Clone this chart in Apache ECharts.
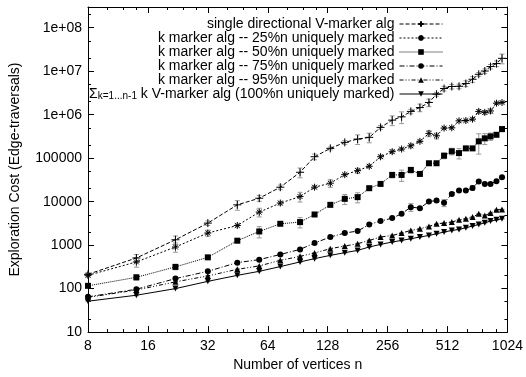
<!DOCTYPE html>
<html>
<head>
<meta charset="utf-8">
<script src="https://cdn.jsdelivr.net/npm/echarts@6/dist/echarts.min.js"></script>
<style>
  html, body { margin: 0; padding: 0; background: #fff; }
  #chart { width: 526px; height: 377px; }
</style>
</head>
<body>
<div id="chart"></div>
<script>
// Number of vertices n for every measured graph size
const vertices = [8, 14, 22, 32, 45, 58, 74, 93, 110, 132, 156, 181, 207, 236, 270, 301, 335, 372, 413, 451, 492, 538, 585, 633, 684, 735, 788, 842, 902, 962];

// Mean exploration cost (edge traversals) and error half-widths per algorithm
const singleDir = [213, 507, 1330, 3210, 8450, 12000, 21500, 47400, 108000, 168000, 231000, 275000, 301000, 511000, 750000, 893000, 1190000, 1460000, 1910000, 2960000, 4000000, 4450000, 4500000, 5200000, 6530000, 8500000, 10100000, 12800000, 15000000, 19800000];
const singleDirErr = [20, 100, 290, 390, 2100, 1800, 2600, 12000, 16000, 13000, 23000, 69000, 75000, 51000, 190000, 270000, 140000, 290000, 380000, 300000, 480000, 530000, 540000, 780000, 980000, 850000, 1200000, 1500000, 2250000, 5000000];

const marked25 = [202, 411, 906, 1900, 2830, 5750, 9290, 13100, 21500, 26600, 41800, 51600, 65100, 108000, 141000, 162000, 193000, 244000, 372000, 327000, 492000, 500000, 723000, 735000, 791000, 1190000, 1130000, 1220000, 1840000, 1910000];
const marked25Err = [15, 100, 220, 300, 200, 1300, 900, 3300, 1600, 5300, 3000, 7000, 5000, 10000, 14000, 10000, 20000, 15000, 60000, 50000, 30000, 30000, 45000, 45000, 60000, 120000, 120000, 150000, 100000, 100000];

const marked50 = [116, 182, 316, 524, 1265, 2065, 3100, 3390, 5070, 8450, 11600, 12700, 20400, 25600, 41200, 41200, 53600, 43400, 76400, 76400, 114000, 144000, 131000, 168000, 168000, 244000, 286000, 317000, 345000, 467000];
const marked50Err = [8, 25, 45, 30, 100, 600, 200, 900, 300, 800, 3000, 3300, 1500, 1500, 6000, 12000, 8000, 3000, 5000, 5000, 17000, 25000, 35000, 12000, 12000, 120000, 80000, 60000, 30000, 60000];

const marked75 = [64.7, 96.8, 170, 250, 396, 464, 610, 798, 1118, 1537, 1898, 2109, 2987, 3570, 4185, 5255, 7485, 7100, 10050, 10590, 9400, 15100, 18000, 18000, 20700, 28900, 25600, 25600, 29500, 36500];
const marked75Err = [3, 8, 8, 12, 20, 25, 30, 60, 60, 100, 120, 100, 150, 170, 200, 250, 1500, 500, 600, 700, 1700, 1000, 1000, 1000, 2500, 2000, 1500, 1500, 1500, 2000];

const marked95 = [63, 92.8, 143, 196, 278, 333, 447, 552, 660, 829, 955, 1078, 1284, 1537, 1672, 1898, 2177, 2382, 2690, 3100, 3214, 3390, 3827, 4035, 4415, 5255, 4812, 5457, 6490, 6590];
const marked95Err = [2, 3, 4, 5, 7, 8, 10, 12, 15, 18, 20, 22, 25, 30, 35, 40, 45, 50, 55, 60, 65, 70, 80, 85, 90, 110, 100, 110, 130, 130];

const sumV = [51.4, 70.5, 100, 147, 202, 250, 321, 411, 489, 582, 671, 757, 906, 1040, 1180, 1284, 1405, 1537, 1672, 1828, 2000, 2177, 2296, 2512, 2747, 2987, 3266, 3570, 3827, 4035];
const sumVErr = [1, 2, 2, 3, 4, 5, 6, 8, 10, 12, 13, 15, 18, 20, 24, 26, 28, 30, 33, 36, 40, 44, 46, 50, 55, 60, 65, 71, 77, 81];

// Tick positions
const xMajorTicks = [8, 16, 32, 64, 128, 256, 512, 1024];
const xMinorTicks = [10, 12, 14, 20, 24, 28, 40, 48, 56, 80, 96, 112, 160, 192, 224, 320, 384, 448, 640, 768, 896];
const yMajorTicks = [10, 100, 1000, 10000, 100000, 1000000, 10000000, 100000000];
const yMinorTicks = [20, 50, 200, 500, 2000, 5000, 20000, 50000, 200000, 500000, 2000000, 5000000, 20000000, 50000000, 200000000];

const seriesNames = [
  'single directional V-marker alg',
  'k marker alg -- 25%n uniquely marked',
  'k marker alg -- 50%n uniquely marked',
  'k marker alg -- 75%n uniquely marked',
  'k marker alg -- 95%n uniquely marked',
  'Σk=1...n-1 k V-marker alg (100%n uniquely marked)'
];

const FONT = '"Liberation Sans", Arial, Helvetica, sans-serif';
const INK = '#000';
const ERR_COLOR = '#999';

const SYM_PLUS = 'path://M5,0L5,10M0,5L10,5';
const SYM_STAR = 'path://M5,0L5,10M0,5L10,5M1.5,1.5L8.5,8.5M8.5,1.5L1.5,8.5';

const seriesSpec = [
  { name: seriesNames[0], values: singleDir, errs: singleDirErr, symbol: SYM_PLUS, size: 8, stroke: true, dash: [4, 2] },
  { name: seriesNames[1], values: marked25, errs: marked25Err, symbol: SYM_STAR, size: 7, stroke: true, dash: [2, 2] },
  { name: seriesNames[2], values: marked50, errs: marked50Err, symbol: 'rect', size: 6, stroke: false, dash: [1, 1] },
  { name: seriesNames[3], values: marked75, errs: marked75Err, symbol: 'circle', size: 6, stroke: false, dash: [5, 2, 1, 2] },
  { name: seriesNames[4], values: marked95, errs: marked95Err, symbol: 'triangle', size: 6, stroke: false, dash: [4, 2, 1, 2, 1, 2] },
  { name: seriesNames[5], values: sumV, errs: sumVErr, symbol: 'triangle', size: 6, stroke: false, dash: 'solid', rotate: 180 }
];

function renderErrorBar(params, api) {
  const x = api.value(0);
  const lo = api.coord([x, api.value(1)]);
  const hi = api.coord([x, api.value(2)]);
  const cap = 2.5;
  const style = { stroke: ERR_COLOR, lineWidth: 1 };
  return {
    type: 'group',
    children: [
      { type: 'line', shape: { x1: lo[0], y1: lo[1], x2: hi[0], y2: hi[1] }, style },
      { type: 'line', shape: { x1: lo[0] - cap, y1: lo[1], x2: lo[0] + cap, y2: lo[1] }, style },
      { type: 'line', shape: { x1: hi[0] - cap, y1: hi[1], x2: hi[0] + cap, y2: hi[1] }, style }
    ]
  };
}

const series = [];
seriesSpec.forEach(function (s) {
  series.push({
    type: 'custom',
    name: s.name + ' (error)',
    xAxisIndex: 0,
    yAxisIndex: 0,
    z: 1,
    silent: true,
    renderItem: renderErrorBar,
    encode: { x: 0, y: [1, 2] },
    data: vertices.map(function (n, i) { return [n, s.values[i] - s.errs[i], s.values[i] + s.errs[i]]; })
  });
});
seriesSpec.forEach(function (s) {
  series.push({
    type: 'line',
    name: s.name,
    xAxisIndex: 0,
    yAxisIndex: 0,
    z: 3,
    symbol: s.symbol,
    symbolSize: s.size,
    symbolRotate: s.rotate || 0,
    showAllSymbol: true,
    animation: false,
    lineStyle: { color: INK, width: 1, type: s.dash },
    itemStyle: s.stroke
      ? { color: INK, borderColor: INK, borderWidth: 1 }
      : { color: INK, borderWidth: 0 },
    data: vertices.map(function (n, i) { return [n, s.values[i]]; })
  });
});

function xAxisDef(position, ticks, len, main) {
  return {
    type: 'log', logBase: 2, min: 8, max: 1024, position: position,
    axisLine: { show: main, lineStyle: { color: INK, width: 1 } },
    axisTick: { show: true, inside: true, length: len, customValues: ticks, lineStyle: { color: INK, width: 1 } },
    axisLabel: main && position === 'bottom'
      ? { show: true, customValues: xMajorTicks, color: INK, fontSize: 14, fontFamily: FONT, margin: 7,
          formatter: function (v) { return String(Math.round(v)); } }
      : { show: false },
    splitLine: { show: false },
    minorTick: { show: false },
    name: main && position === 'bottom' ? 'Number of vertices n' : '',
    nameLocation: 'middle', nameGap: 23,
    nameTextStyle: { color: INK, fontSize: 14, fontFamily: FONT }
  };
}
function yAxisDef(position, ticks, len, main) {
  return {
    type: 'log', logBase: 10, min: 10, max: 3e8, position: position,
    axisLine: { show: main, lineStyle: { color: INK, width: 1 } },
    axisTick: { show: true, inside: true, length: len, customValues: ticks, lineStyle: { color: INK, width: 1 } },
    axisLabel: main && position === 'left'
      ? { show: true, customValues: yMajorTicks, color: INK, fontSize: 14, fontFamily: FONT, margin: 6,
          formatter: function (v) {
            const e = Math.round(Math.log10(v));
            return e >= 6 ? '1e+0' + e : String(Math.round(v));
          } }
      : { show: false },
    splitLine: { show: false },
    minorTick: { show: false },
    name: main && position === 'left' ? 'Exploration Cost (Edge-traversals)' : '',
    nameLocation: 'middle', nameGap: 66, nameRotate: 90,
    nameTextStyle: { color: INK, fontSize: 14, fontFamily: FONT }
  };
}

const chart = echarts.init(document.getElementById('chart'), null, { renderer: 'canvas' });
chart.setOption({
  animation: false,
  backgroundColor: '#fff',
  grid: { left: 88, right: 18, top: 7, bottom: 43, containLabel: false },
  xAxis: [
    xAxisDef('bottom', xMajorTicks, 6, true),
    xAxisDef('top', xMajorTicks, 6, true),
    xAxisDef('bottom', xMinorTicks, 3, false),
    xAxisDef('top', xMinorTicks, 3, false)
  ],
  yAxis: [
    yAxisDef('left', yMajorTicks, 6, true),
    yAxisDef('right', yMajorTicks, 6, true),
    yAxisDef('left', yMinorTicks, 3, false),
    yAxisDef('right', yMinorTicks, 3, false)
  ],
  legend: {
    data: seriesNames,
    orient: 'vertical',
    align: 'right',
    right: 83,
    top: 17,
    padding: 0,
    itemGap: 0,
    itemWidth: 43,
    itemHeight: 7,
    selectedMode: false,
    lineStyle: { width: 1 },
    textStyle: {
      color: INK, fontSize: 14, fontFamily: FONT, lineHeight: 13.6,
      rich: {
        s: { fontSize: 14, fontFamily: FONT, color: INK, lineHeight: 13.6 },
        sub: { fontSize: 10, fontFamily: FONT, color: INK, lineHeight: 8, verticalAlign: 'bottom' },
        t: { fontSize: 14, fontFamily: FONT, color: INK, lineHeight: 13.6 }
      }
    },
    formatter: function (name) {
      if (name === seriesNames[5]) {
        return '{s|Σ}{sub|k=1...n-1}{t| k V-marker alg (100%n uniquely marked)}';
      }
      return name;
    }
  },
  series: series
});
</script>
</body>
</html>
